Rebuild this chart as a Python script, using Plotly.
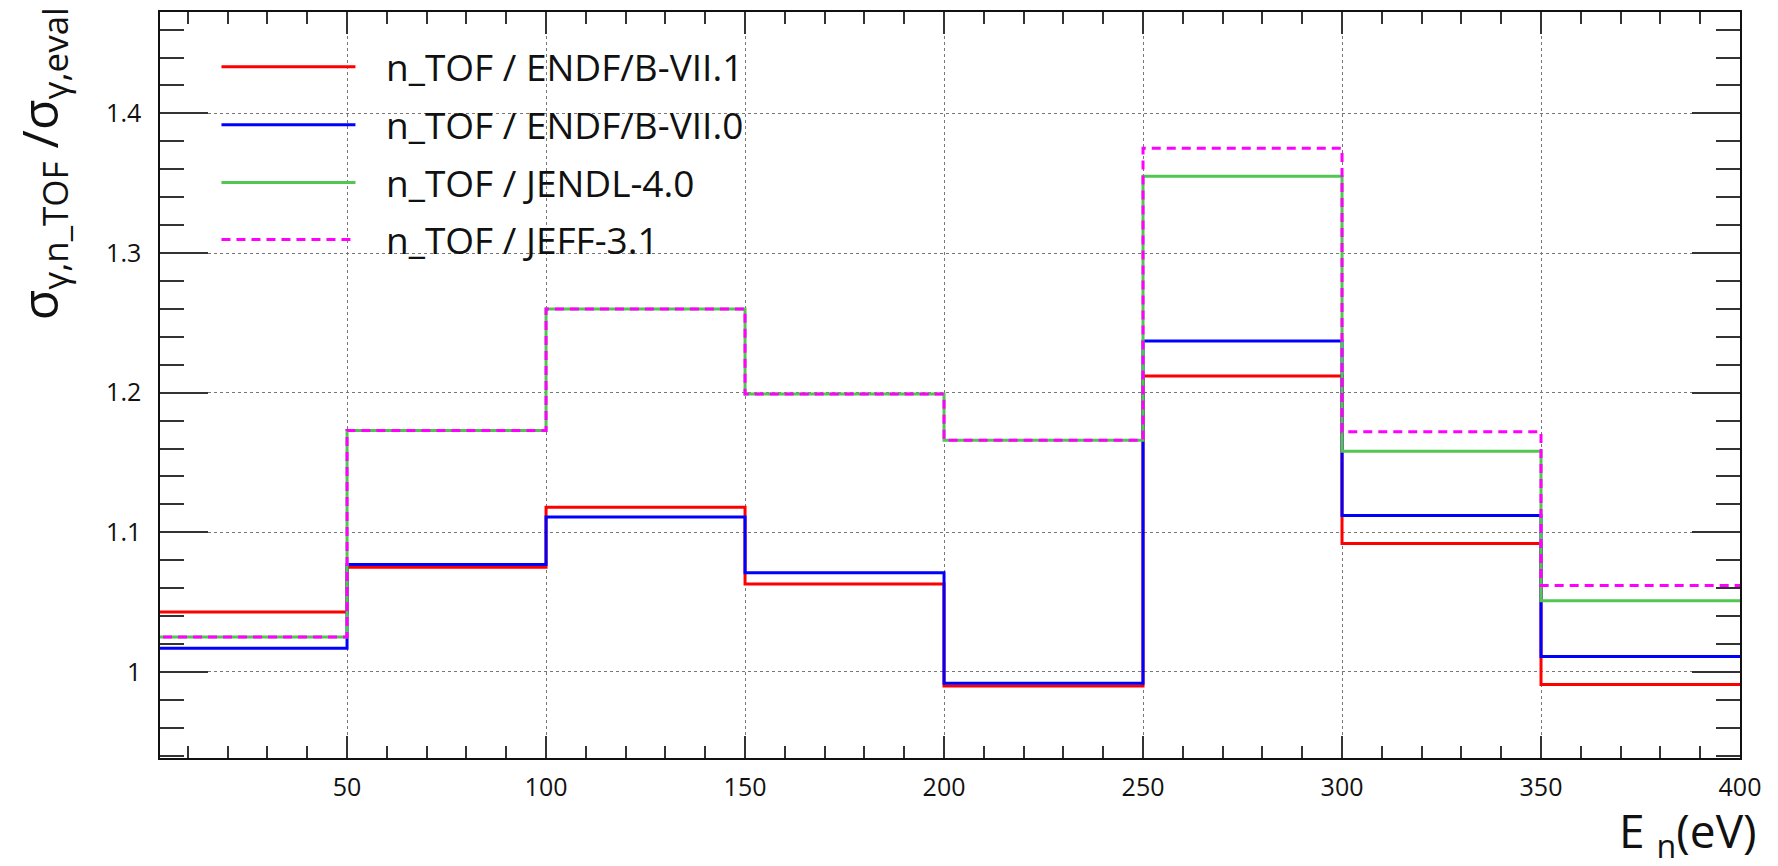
import plotly.graph_objects as go

# Bin edges (eV) and ratio values per bin
bin_edges = [0, 50, 100, 150, 200, 250, 300, 350, 400]
ratio_endf71 = [1.043, 1.075, 1.118, 1.063, 0.990, 1.212, 1.092, 0.991]
ratio_endf70 = [1.017, 1.077, 1.111, 1.071, 0.992, 1.237, 1.112, 1.011]
ratio_jendl40 = [1.025, 1.173, 1.260, 1.199, 1.166, 1.355, 1.158, 1.051]
ratio_jeff31 = [1.025, 1.173, 1.260, 1.199, 1.166, 1.375, 1.172, 1.062]

series_names = ["n_TOF / ENDF/B-VII.1", "n_TOF / ENDF/B-VII.0",
                "n_TOF / JENDL-4.0", "n_TOF / JEFF-3.1"]
series_values = [ratio_endf71, ratio_endf70, ratio_jendl40, ratio_jeff31]
series_colors = ["#ff0000", "#0000ff", "#52c652", "#ff00ff"]
series_dash = ["solid", "solid", "solid", "9px,6px"]

FONT = "Open Sans"

fig = go.Figure()
for name, vals, col, dash in zip(series_names, series_values, series_colors, series_dash):
    fig.add_trace(go.Scatter(
        x=bin_edges, y=list(vals) + [vals[-1]], mode="lines", line_shape="hv",
        line=dict(color=col, width=3, dash=dash), name=name, showlegend=False))

# Manual legend (long line samples like the original)
row_y = [0.9265, 0.8489, 0.7714, 0.6952]
for name, col, dash, yy in zip(series_names, series_colors, series_dash, row_y):
    fig.add_shape(type="line", xref="paper", yref="paper", x0=0.0389, x1=0.1237,
                  y0=yy, y1=yy, line=dict(color=col, width=3, dash=dash))
    fig.add_annotation(text=name, xref="paper", yref="paper", x=0.142, y=yy,
                       xanchor="left", yanchor="middle", showarrow=False,
                       font=dict(family=FONT, size=37, color="#111"))

# Axis titles
fig.add_annotation(text="σ<sub>γ,n_TOF</sub> /σ<sub>γ,eval</sub>", textangle=-90,
                   xref="paper", yref="paper", x=-0.075, y=1.009, xanchor="center",
                   yanchor="top", showarrow=False,
                   font=dict(family=FONT, size=50, color="#111"))
fig.add_annotation(text="E <sub>n</sub>(eV)", xref="paper", yref="paper",
                   x=1.012, y=-0.052, xanchor="right", yanchor="top", showarrow=False,
                   font=dict(family=FONT, size=46, color="#111"))

axis_common = dict(showline=True, linecolor="#111", linewidth=1.5, mirror="ticks",
                   ticks="inside", tickcolor="#333", tickwidth=1.5,
                   showgrid=True, gridcolor="#777", griddash="dot", gridwidth=1,
                   zeroline=False, tickfont=dict(family=FONT, size=25, color="#111"))

fig.update_xaxes(range=[3, 400], tick0=0, dtick=50, ticklen=22,
                 minor=dict(dtick=10, ticks="inside", ticklen=12, tickcolor="#333",
                            tickwidth=1.5, showgrid=False),
                 ticklabelstandoff=6, **axis_common)
fig.update_yaxes(range=[0.9384, 1.4726], tick0=1, dtick=0.1, ticklen=48,
                 minor=dict(dtick=0.02, ticks="inside", ticklen=24, tickcolor="#333",
                            tickwidth=1.5, showgrid=False),
                 ticklabelstandoff=12, **axis_common)

fig.update_layout(width=1778, height=866, autosize=False,
                  margin=dict(l=160, r=38, t=10, b=108),
                  plot_bgcolor="white", paper_bgcolor="white",
                  font=dict(family=FONT, color="#111"))

fig.write_html("out.html", config={"displayModeBar": False},
               post_script="document.body.style.margin='0';document.body.style.overflow='hidden';")
